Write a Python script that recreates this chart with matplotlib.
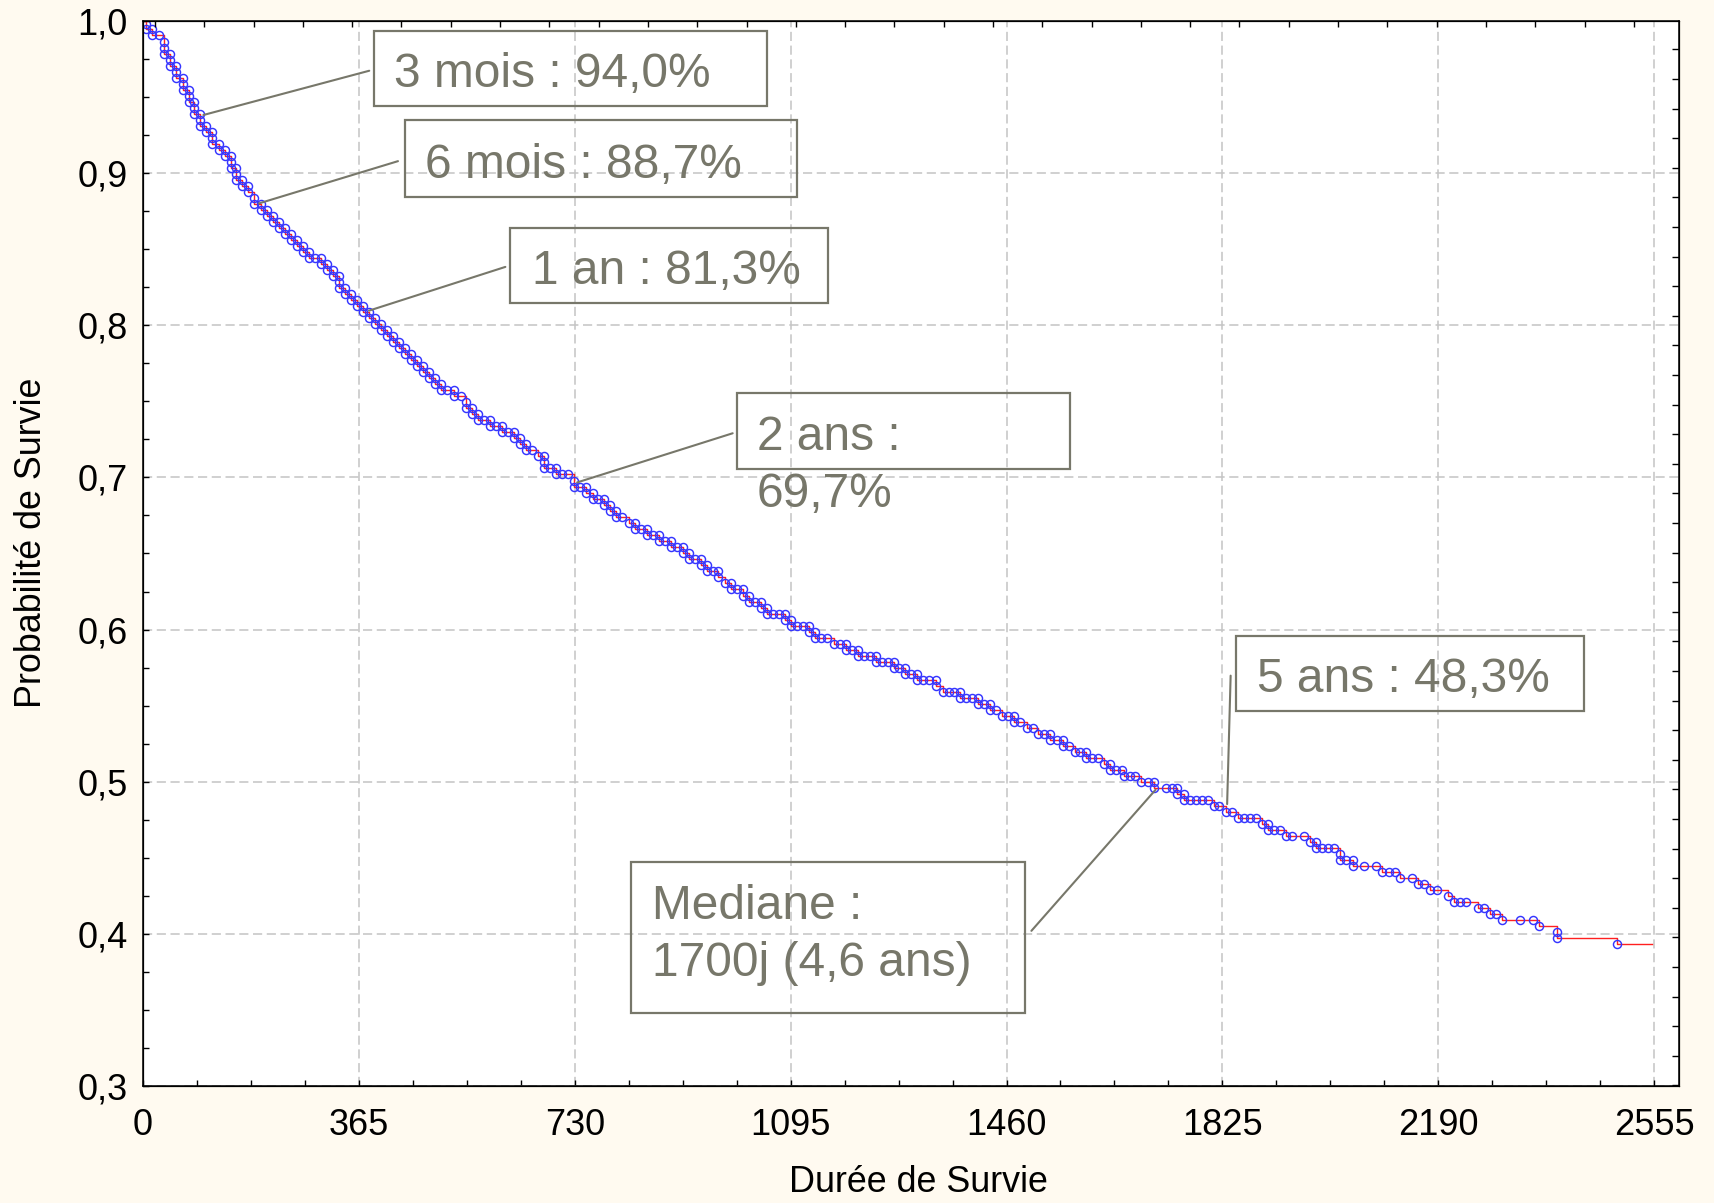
import matplotlib
matplotlib.use("Agg")
import matplotlib.pyplot as plt
from matplotlib.patches import Rectangle
from matplotlib.ticker import MultipleLocator, FuncFormatter

plt.rcParams['font.family'] = ['Liberation Sans', 'DejaVu Sans']

# Kaplan-Meier points (days, survival probability)
event_days = [
    5, 5, 15, 15, 27, 36, 36, 36, 46, 46, 46, 56, 56, 56, 67, 67, 67, 77, 77, 77,
    87, 87, 87, 97, 97, 97, 107, 107, 117, 117, 117, 128, 128, 138, 138, 148, 148, 148,
    158, 158, 158, 168, 168, 178, 178, 188,
    188, 199, 199, 209, 209, 220, 220, 230, 230, 240, 240, 250, 250, 260, 260, 270, 270,
    281, 281, 291, 301, 301, 311, 311, 321, 321, 331, 331, 331, 342, 342, 352, 352, 362,
    362, 372, 372, 382, 382, 392, 392, 403, 403, 413, 413, 423,
    423, 433, 433, 443, 443, 453, 453, 464, 464, 474, 474, 484, 484, 494, 494, 504, 504,
    514, 525, 525,
    537, 546, 546, 556, 556, 566, 566, 576, 586, 586, 597, 607, 607, 617, 627, 627, 637,
    637, 647, 647, 658, 668, 678, 678, 678, 688, 698, 698, 708, 719, 729, 729,
    739, 749, 749, 760, 760, 770, 780, 780, 790, 790, 800, 800, 810, 822, 832, 832, 842,
    852, 852, 862, 872, 872, 883, 893, 893, 903, 913, 913, 923, 923, 933, 943, 943, 953,
    953, 963, 973, 973, 984, 994, 994, 1004, 1014, 1014, 1025, 1025, 1035, 1045, 1045,
    1055, 1055, 1065, 1075, 1085, 1085, 1095, 1095, 1106, 1116, 1126, 1126, 1136, 1136,
    1146, 1156, 1169, 1179, 1189, 1189, 1199, 1209, 1209, 1219, 1229, 1239, 1239, 1249,
    1259, 1269, 1269, 1279, 1289, 1289, 1299, 1309, 1309, 1319, 1329, 1340, 1340, 1352,
    1362, 1372, 1382, 1382, 1392, 1402, 1412, 1412, 1422, 1432, 1432, 1442, 1452, 1462,
    1472, 1472, 1483, 1494, 1504, 1514, 1524, 1534, 1534, 1545, 1555, 1555, 1565, 1575,
    1585, 1595, 1595, 1605, 1615, 1625, 1635, 1635, 1645, 1655,
    1658, 1668, 1678, 1688, 1699, 1709, 1709, 1729, 1739, 1749, 1749, 1760, 1760, 1770,
    1780, 1790, 1800, 1810, 1820, 1831, 1841, 1851, 1861, 1871, 1881, 1892, 1902, 1902,
    1912, 1922, 1932, 1942, 1963, 1973, 1983, 1983,
    1993, 2003, 2014, 2024, 2024, 2034, 2045, 2045, 2065, 2085, 2095, 2106, 2116, 2126,
    2146, 2156, 2166, 2176, 2187, 2207, 2217, 2227, 2237, 2258, 2268, 2278, 2288, 2298,
    2329, 2350, 2360, 2391, 2391, 2493,
]
survival = [
    .998, .9945, .9945, .9906, .9906, .9864, .9825, .9785, .9785, .9746, .9706, .9706,
    .9667, .9627, .9627, .9588, .9548, .9548, .9509, .9470, .9470, .9430, .9391, .9391,
    .9351, .9312, .9312, .9272, .9272, .9233, .9193, .9193, .9154, .9154, .9115, .9115,
    .9075, .9036, .9036, .8996, .8957, .8957, .8917, .8917, .8878, .8839,
    .8797, .8797, .8758, .8758, .8718, .8718, .8679, .8679, .8639, .8639, .8600, .8600,
    .8560, .8560, .8521, .8521, .8482, .8482, .8442, .8442, .8442, .8403, .8403, .8363,
    .8363, .8324, .8324, .8284, .8245, .8245, .8206, .8206, .8166, .8166, .8127, .8127,
    .8087, .8087, .8048, .8048, .8008, .8008, .7969, .7969, .7929, .7929,
    .7890, .7890, .7850, .7850, .7811, .7811, .7771, .7771, .7732, .7732, .7693, .7693,
    .7653, .7653, .7614, .7614, .7574, .7574, .7574, .7535,
    .7535, .7496, .7456, .7456, .7417, .7417, .7377, .7377, .7377, .7338, .7338, .7338,
    .7298, .7298, .7298, .7259, .7259, .7220, .7220, .7180, .7180, .7141, .7141, .7101,
    .7062, .7062, .7062, .7022, .7022, .7022, .6979, .6939,
    .6939, .6939, .6900, .6900, .6858, .6858, .6858, .6819, .6819, .6779, .6779, .6740,
    .6740, .6700, .6700, .6661, .6661, .6661, .6619, .6619, .6619, .6580, .6580, .6580,
    .6540, .6540, .6540, .6501, .6501, .6462, .6462, .6462, .6422, .6422, .6383, .6383,
    .6383, .6343, .6304, .6304, .6264, .6264, .6264, .6223, .6223, .6183, .6183, .6183,
    .6144, .6144, .6104, .6104, .6104, .6104, .6065, .6065, .6026, .6026, .6026, .6026,
    .5986, .5986, .5947, .5947, .5947, .5907, .5907, .5907, .5868, .5868, .5868, .5828,
    .5828, .5828, .5828, .5789, .5789, .5789, .5789, .5749, .5749, .5749, .5710, .5710,
    .5710, .5671, .5671, .5671, .5671, .5631, .5592, .5592, .5592, .5592, .5552, .5552,
    .5552, .5552, .5513, .5513, .5513, .5474, .5474, .5434, .5434, .5434, .5395, .5395,
    .5355, .5355, .5316, .5316, .5316, .5276, .5276, .5276, .5237, .5237, .5197, .5197,
    .5197, .5158, .5158, .5158, .5119, .5119, .5079, .5079, .5079,
    .5037, .5037, .5037, .4998, .4998, .4998, .4958, .4958, .4958, .4958, .4919, .4919,
    .4880, .4880, .4880, .4880, .4880, .4840, .4840, .4801, .4801, .4761, .4761, .4761,
    .4761, .4722, .4722, .4683, .4683, .4683, .4643, .4643, .4643, .4604, .4604, .4564,
    .4562, .4562, .4562, .4523, .4483, .4483, .4483, .4444, .4444, .4444, .4404, .4404,
    .4404, .4365, .4365, .4326, .4326, .4286, .4286, .4247, .4207, .4207, .4207, .4168,
    .4168, .4128, .4128, .4088, .4088, .4088, .4049, .4010, .3970, .3931,
]
last_day = 2551  # end of the last horizontal step

x_ticks = [0, 365, 730, 1095, 1460, 1825, 2190, 2555]
y_ticks = [0.3, 0.4, 0.5, 0.6, 0.7, 0.8, 0.9, 1.0]

# annotations: text, point on the curve (day, survival)
ann_labels = ["3 mois : 94,0%", "6 mois : 88,7%", "1 an : 81,3%",
              "2 ans :\n69,7%", "5 ans : 48,3%", "Mediane :\n1700j (4,6 ans)"]
ann_days = [102, 196, 382, 734, 1833, 1712]
ann_surv = [0.9382, 0.8801, 0.8096, 0.6967, 0.4853, 0.4947]

# layout of the boxes (axes fraction): x0, y0, x1, y1
box_pos = [(0.1504, 0.9202, 0.4061, 0.991), (0.1704, 0.8348, 0.4260, 0.9068),
           (0.2387, 0.7352, 0.4460, 0.8061), (0.3865, 0.5791, 0.6035, 0.6510),
           (0.7116, 0.3521, 0.9380, 0.4230), (0.3178, 0.0686, 0.5741, 0.2103)]
text_pos = [(0.1634, 0.9378, 'baseline'), (0.1839, 0.8530, 'baseline'),
            (0.2530, 0.7531, 'baseline'), (0.3995, 0.6300, 'top'),
            (0.7251, 0.3700, 'baseline'), (0.3314, 0.1900, 'top')]
leader_end = [(0.1473, 0.9533), (0.1660, 0.8684), (0.2359, 0.7691),
              (0.3839, 0.6129), (0.7081, 0.3853), (0.5784, 0.1457)]

W, H = 1715, 1203
fig = plt.figure(figsize=(W / 100, H / 100), dpi=100, facecolor='floralwhite')
ax = fig.add_axes([143 / W, 1 - 1086 / H, 1536 / W, 1065 / H])
ax.set_facecolor('white')

step_days = [0] + event_days + [last_day]
step_surv = [1.0] + survival + [survival[-1]]
ax.step(step_days, step_surv, where='post', color='#ff2020', lw=1.0, zorder=3)
ax.plot(event_days, survival, ls='none', marker='o', mfc='none', mec='#3535ff',
        ms=5.8, mew=1.05, zorder=4)

ax.set_xlim(0, 2597)
ax.set_ylim(0.3, 1.0)
ax.set_xticks(x_ticks)
ax.set_yticks(y_ticks)
ax.xaxis.set_minor_locator(MultipleLocator(91.25))
ax.yaxis.set_minor_locator(MultipleLocator(0.025))
ax.yaxis.set_major_formatter(FuncFormatter(lambda v, p: f"{v:.1f}".replace('.', ',')))
ax.tick_params(which='both', direction='in', length=4, width=1, top=False, right=False,
               labelsize=26, colors='black')
ax.tick_params(axis='x', pad=16)
ax.tick_params(axis='y', pad=11)
ax.grid(True, which='major', ls=(0, (6, 3)), color='#c4c4c4', lw=1.1, zorder=0)
for s in ax.spines.values():
    s.set_linewidth(1.1)
    s.set_color('black')

# top and right tick marks (separate scales, no labels)
axt = ax.twiny()
axt.set_xlim(-0.243, 30.917)
axt.xaxis.set_major_locator(MultipleLocator(1))
axt.tick_params(axis='x', direction='in', length=4, width=1, labeltop=False)
axr = ax.twinx()
axr.set_ylim(-0.02, 35.96)
axr.yaxis.set_major_locator(MultipleLocator(1))
axr.tick_params(axis='y', direction='in', length=5, width=1, labelright=False)

ax.set_xlabel('Durée de Survie', fontsize=25.8)
ax.xaxis.set_label_coords(0.505, -0.0745)
ax.set_ylabel('Probabilité de Survie', fontsize=25.8)
ax.yaxis.set_label_coords(-0.0609, 0.51)

gray = '#77776a'
for lab, d, s, bx, tp, le in zip(ann_labels, ann_days, ann_surv, box_pos, text_pos, leader_end):
    ax.annotate('', xy=(d, s), xycoords='data', xytext=le, textcoords='axes fraction',
                arrowprops=dict(arrowstyle='-', color=gray, lw=1.5, shrinkA=0, shrinkB=0),
                zorder=5)
    ax.add_patch(Rectangle((bx[0], bx[1]), bx[2] - bx[0], bx[3] - bx[1],
                           transform=ax.transAxes, fill=False, ec=gray, lw=1.6,
                           clip_on=False, zorder=5))
    ax.text(tp[0], tp[1], lab, transform=ax.transAxes, fontsize=34.5, color=gray,
            va=tp[2], ha='left', linespacing=1.34, zorder=6)

fig.savefig('out.png', dpi=100, facecolor=fig.get_facecolor())
